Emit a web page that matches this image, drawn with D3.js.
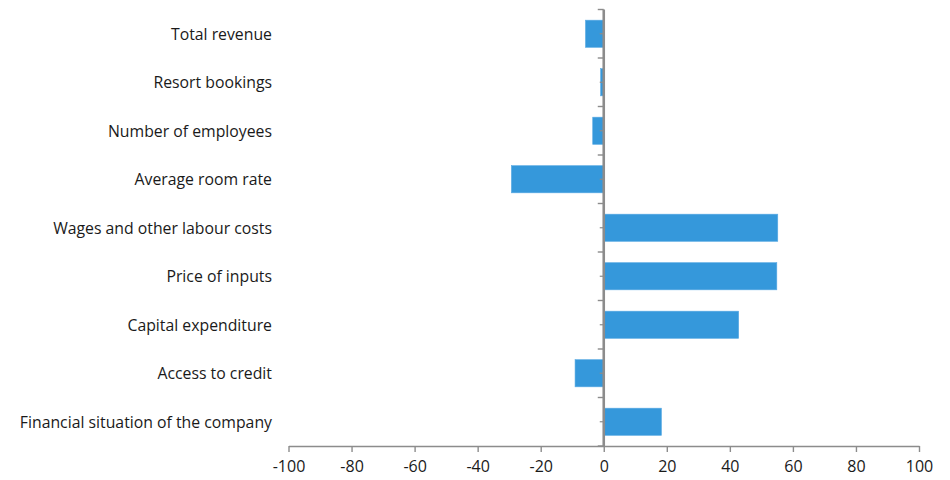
<!DOCTYPE html>
<html>
<head>
<meta charset="utf-8">
<script src="https://cdn.jsdelivr.net/npm/d3@7"></script>
<style>
  html, body { margin: 0; padding: 0; background: #fff; }
  svg { display: block; }
</style>
</head>
<body>
<script>
const categories = [
  "Total revenue",
  "Resort bookings",
  "Number of employees",
  "Average room rate",
  "Wages and other labour costs",
  "Price of inputs",
  "Capital expenditure",
  "Access to credit",
  "Financial situation of the company"
];
const values = [-5.8, -1.0, -3.5, -29.3, 55.2, 54.9, 42.8, -9.1, 18.3];
const xTicks = [-100, -80, -60, -40, -20, 0, 20, 40, 60, 80, 100];

const W = 950, H = 480;
const svg = d3.select("body").append("svg").attr("width", W).attr("height", H);

const x = d3.scaleLinear().domain([-100, 100]).range([288.5, 919]);
const y = d3.scaleBand().domain(categories).range([9.5, 446]).paddingInner(0.44).paddingOuter(0.22);
const yB = d3.scaleBand().domain(categories).range([9.5, 446]);

const axisColor = "#8c8c8c";
const font = "'Open Sans', sans-serif";

// bars
svg.append("g").selectAll("rect").data(values).join("rect")
  .attr("x", (d) => x(Math.min(0, d)))
  .attr("width", (d) => Math.abs(x(d) - x(0)))
  .attr("y", (d, i) => y(categories[i]))
  .attr("height", y.bandwidth())
  .attr("fill", "#3598db")
  .attr("stroke", "#5aaae3")
  .attr("stroke-width", 0.6);

// bottom axis
const xAxis = svg.append("g").attr("transform", `translate(0,${yB.range()[1]})`)
  .call(d3.axisBottom(x).tickValues(xTicks).tickFormat((d) => String(d)).tickSize(6).tickSizeOuter(0).tickPadding(9));
xAxis.select(".domain").attr("stroke", axisColor).attr("stroke-width", 1.6);
xAxis.selectAll(".tick line").attr("stroke", axisColor).attr("stroke-width", 1.4);
xAxis.selectAll(".tick text").attr("fill", "#1a1a1a").style("font-family", font).style("font-size", "16px");

// vertical axis at zero
const x0 = x(0);
const vAxis = svg.append("g");
vAxis.selectAll("line.major").data(d3.range(categories.length + 1)).join("line")
  .attr("class", "major")
  .attr("x1", x0 - 6).attr("x2", x0)
  .attr("y1", (d) => yB.range()[0] + d * yB.step())
  .attr("y2", (d) => yB.range()[0] + d * yB.step())
  .attr("stroke", axisColor).attr("stroke-width", 1.4);
vAxis.selectAll("line.minor").data(categories).join("line")
  .attr("class", "minor")
  .attr("x1", x0 - 4).attr("x2", x0)
  .attr("y1", (d) => yB(d) + yB.bandwidth() / 2)
  .attr("y2", (d) => yB(d) + yB.bandwidth() / 2)
  .attr("stroke", axisColor).attr("stroke-width", 1.2);
vAxis.append("line")
  .attr("x1", x0).attr("x2", x0)
  .attr("y1", yB.range()[0]).attr("y2", yB.range()[1])
  .attr("stroke", axisColor).attr("stroke-width", 2.6);

// category labels
svg.append("g").selectAll("text").data(categories).join("text")
  .attr("x", 272)
  .attr("y", (d) => yB(d) + yB.bandwidth() / 2 + 0.5)
  .attr("dy", "0.35em")
  .attr("text-anchor", "end")
  .attr("fill", "#1a1a1a")
  .style("font-family", font)
  .style("font-size", "15.8px")
  .text((d) => d);
</script>
</body>
</html>
